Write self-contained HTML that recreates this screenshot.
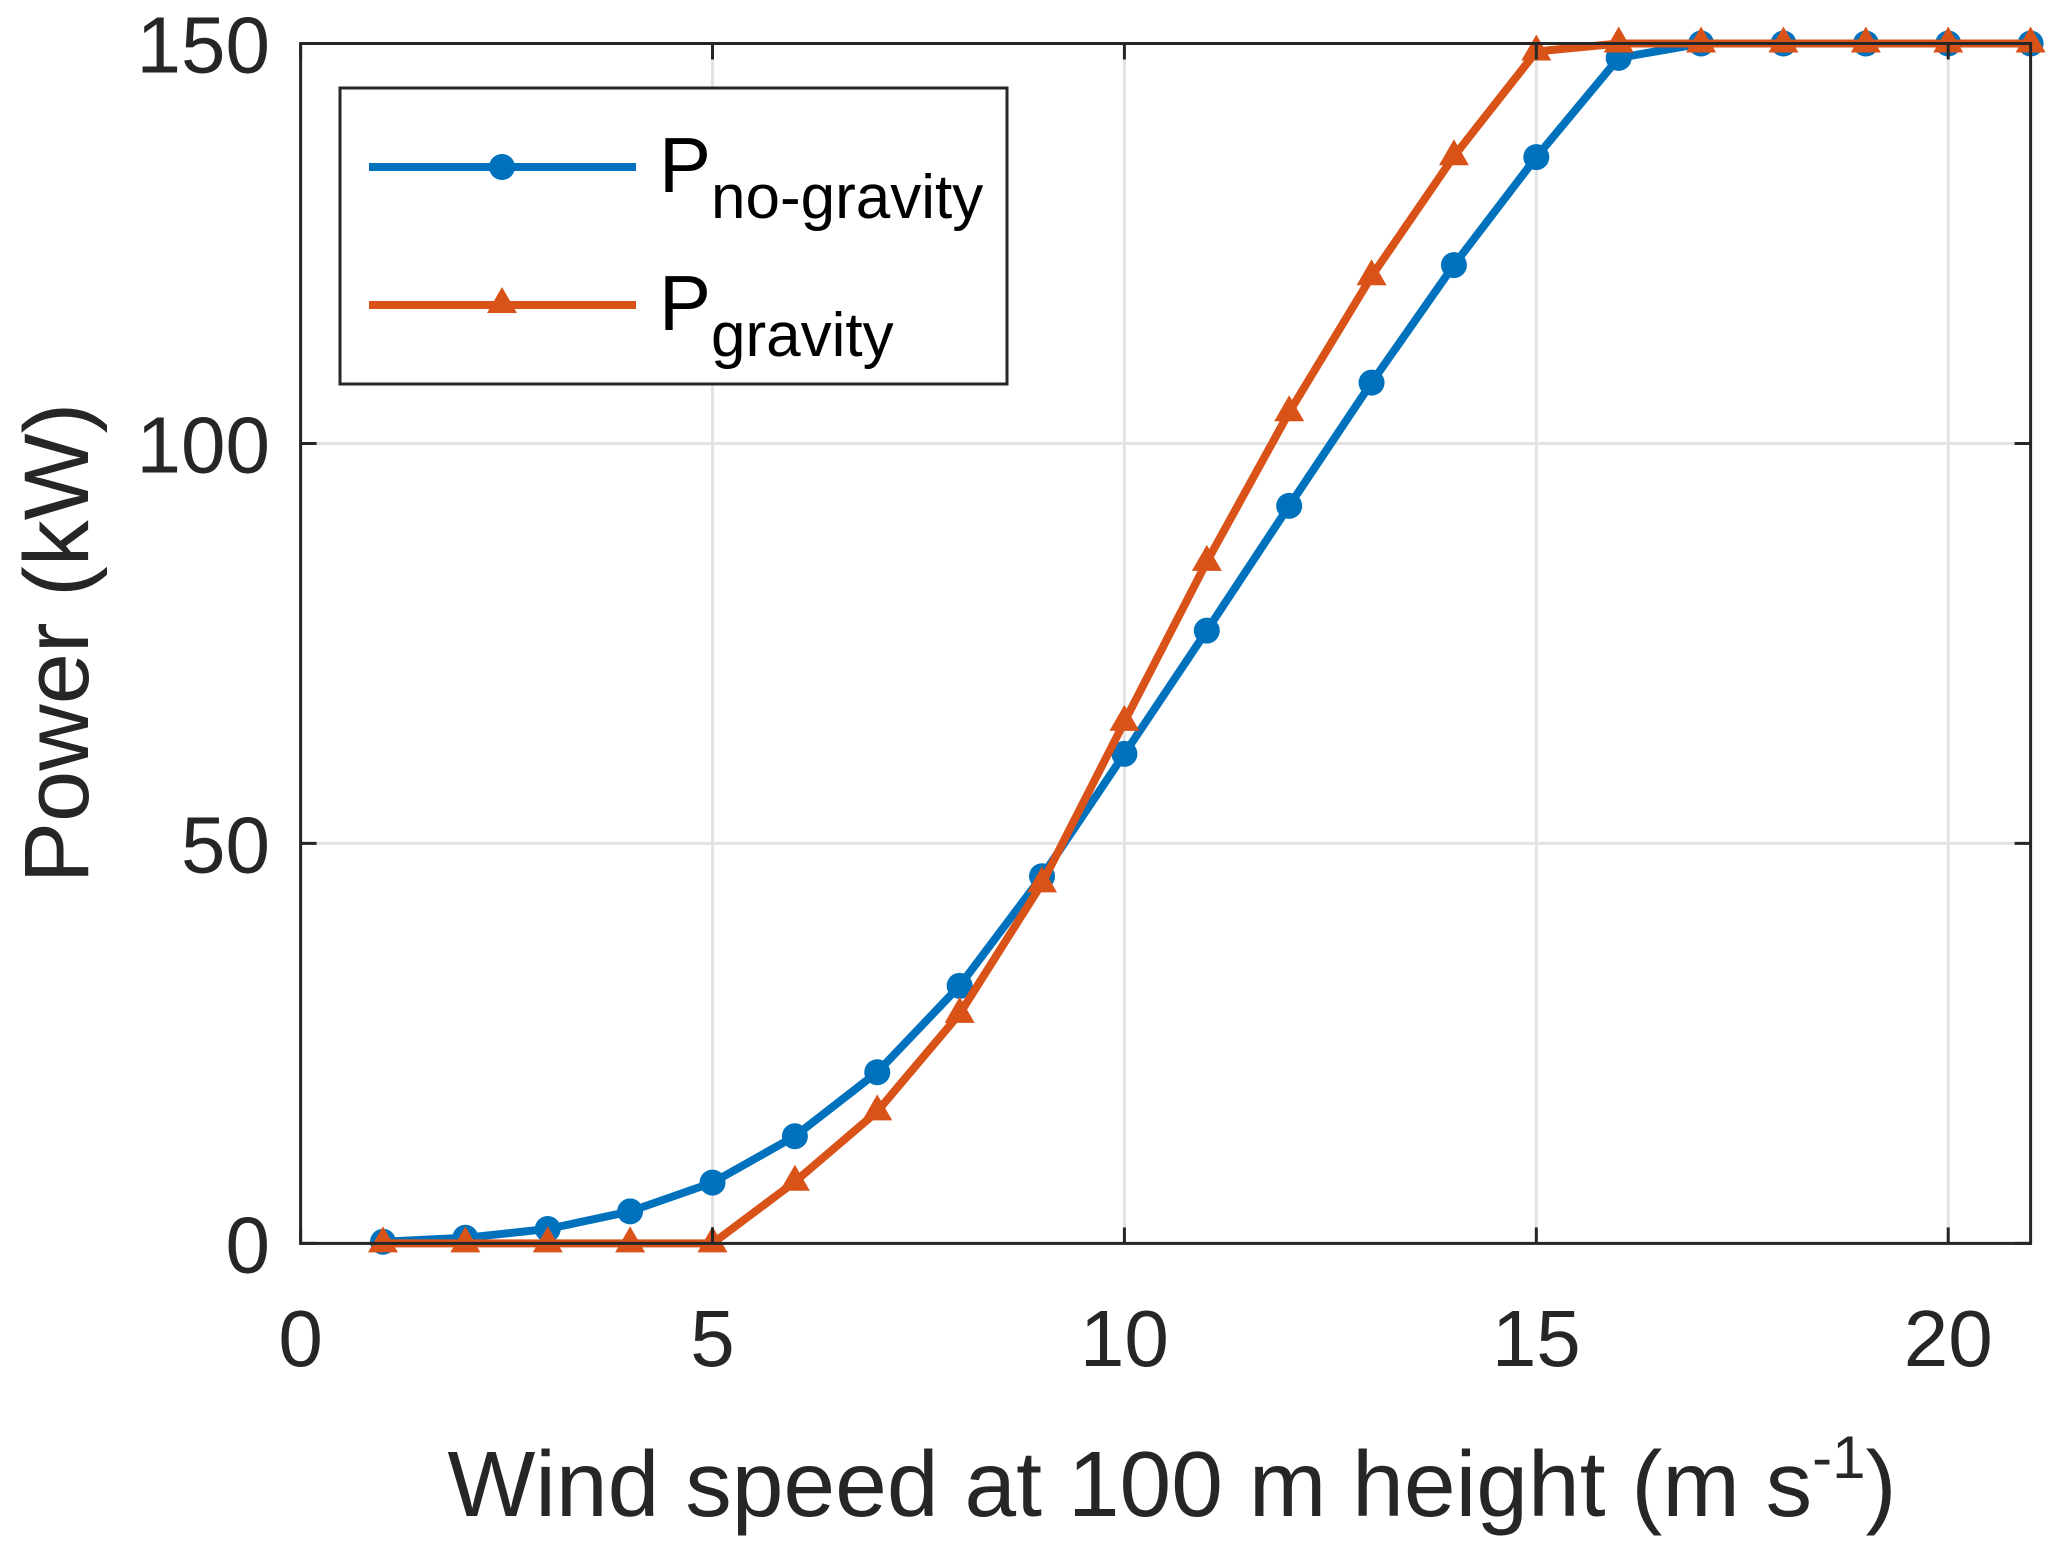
<!DOCTYPE html>
<html><head><meta charset="utf-8"><style>
html,body{margin:0;padding:0;background:#fff;}
svg{display:block;font-family:"Liberation Sans",Arial,sans-serif;}
</style></head><body>
<svg id="chart" width="2067" height="1551" viewBox="0 0 2067 1551" xmlns="http://www.w3.org/2000/svg">
<g id="grid"></g>
<g id="series"></g>
<rect x="300.6" y="43.5" width="1730" height="1199.9" fill="none" stroke="#262626" stroke-width="3"/>
<g id="ticks"></g>
<text transform="translate(88,643) rotate(-90)" text-anchor="middle" font-size="92" fill="#262626">Power (kW)</text>
<text x="1172" y="1516" text-anchor="middle" font-size="93" fill="#262626">Wind speed at 100 m height (m s<tspan dy="-38" font-size="60">-1</tspan><tspan dy="38">)</tspan></text>
<g>
<rect x="340" y="88" width="667" height="296" fill="#fff" stroke="#262626" stroke-width="3"/>
<g>
<line x1="369" y1="167" x2="636" y2="167" stroke="#0072BD" stroke-width="8"/>
<circle cx="502" cy="167" r="13" fill="#0072BD"/>
<text x="659" y="192" font-size="78" fill="#000">P<tspan dy="26" font-size="62">no-gravity</tspan></text>
</g>
<g>
<line x1="369" y1="305" x2="636" y2="305" stroke="#D95319" stroke-width="8"/>
<polygon points="502,287 517,313 487,313" fill="#D95319"/>
<text x="659" y="330" font-size="78" fill="#000">P<tspan dy="26" font-size="62">gravity</tspan></text>
</g>
</g>
</svg>
<script>
const windSpeeds=[1,2,3,4,5,6,7,8,9,10,11,12,13,14,15,16,17,18,19,20,21];
const noGravity=[0.2,0.7,1.8,4.0,7.6,13.4,21.4,32.2,45.9,61.2,76.6,92.2,107.6,122.3,135.8,148.2,150,150,150,150,150];
const gravity=[0,0,0,0,0,7.7,16.5,28.7,45.0,65.2,85.2,103.9,120.9,135.9,149.0,150,150,150,150,150,150];
const xTicks=[0,5,10,15,20];
const yTicks=[0,50,100,150];
const NS="http://www.w3.org/2000/svg";
const L=300.6,R=2030.6,T=43.5,B=1243.4;
const sx=v=>L+(v/21)*(R-L);
const sy=v=>B-(v/150)*(B-T);
function mk(tag,attrs,parent){const e=document.createElementNS(NS,tag);for(const k in attrs)e.setAttribute(k,attrs[k]);parent.appendChild(e);return e;}
const grid=document.getElementById('grid'),ticks=document.getElementById('ticks'),series=document.getElementById('series');
xTicks.forEach(t=>{
 const x=sx(t);
 const g=mk('line',{x1:x,x2:x,y1:T,y2:B,stroke:'#e3e3e3','stroke-width':3},grid);
 
 
 mk('line',{x1:x,x2:x,y1:B,y2:B-16,stroke:'#262626','stroke-width':3},ticks);
 mk('line',{x1:x,x2:x,y1:T,y2:T+16,stroke:'#262626','stroke-width':3},ticks);
 const tx=mk('text',{x:x,y:1366,'text-anchor':'middle','font-size':80,fill:'#262626'},ticks);
 tx.textContent=t;
 
 
});
yTicks.forEach(t=>{
 const y=sy(t);
 const g=mk('line',{x1:L,x2:R,y1:y,y2:y,stroke:'#e3e3e3','stroke-width':3},grid);
 
 
 mk('line',{x1:L,x2:L+16,y1:y,y2:y,stroke:'#262626','stroke-width':3},ticks);
 mk('line',{x1:R,x2:R-16,y1:y,y2:y,stroke:'#262626','stroke-width':3},ticks);
 const tx=mk('text',{x:270,y:y+29,'text-anchor':'end','font-size':80,fill:'#262626'},ticks);
 tx.textContent=t;
 
 
});
function draw(vals,color,marker,name){
 const pts=windSpeeds.map((w,i)=>sx(w)+','+sy(vals[i])).join(' ');
 const pl=mk('polyline',{points:pts,fill:'none',stroke:color,'stroke-width':8,'stroke-linejoin':'round'},series);
 
 
 windSpeeds.forEach((w,i)=>{
  const x=sx(w),y=sy(vals[i]);let m;
  if(marker==='circle'){m=mk('circle',{cx:x,cy:y,r:13,fill:color},series);}
  else{m=mk('polygon',{points:`${x},${y-17} ${x+15},${y+9} ${x-15},${y+9}`,fill:color},series);}
  
  
 });
}
draw(noGravity,'#0072BD','circle','no-gravity');
draw(gravity,'#D95319','triangle','gravity');
</script>
</body></html>
